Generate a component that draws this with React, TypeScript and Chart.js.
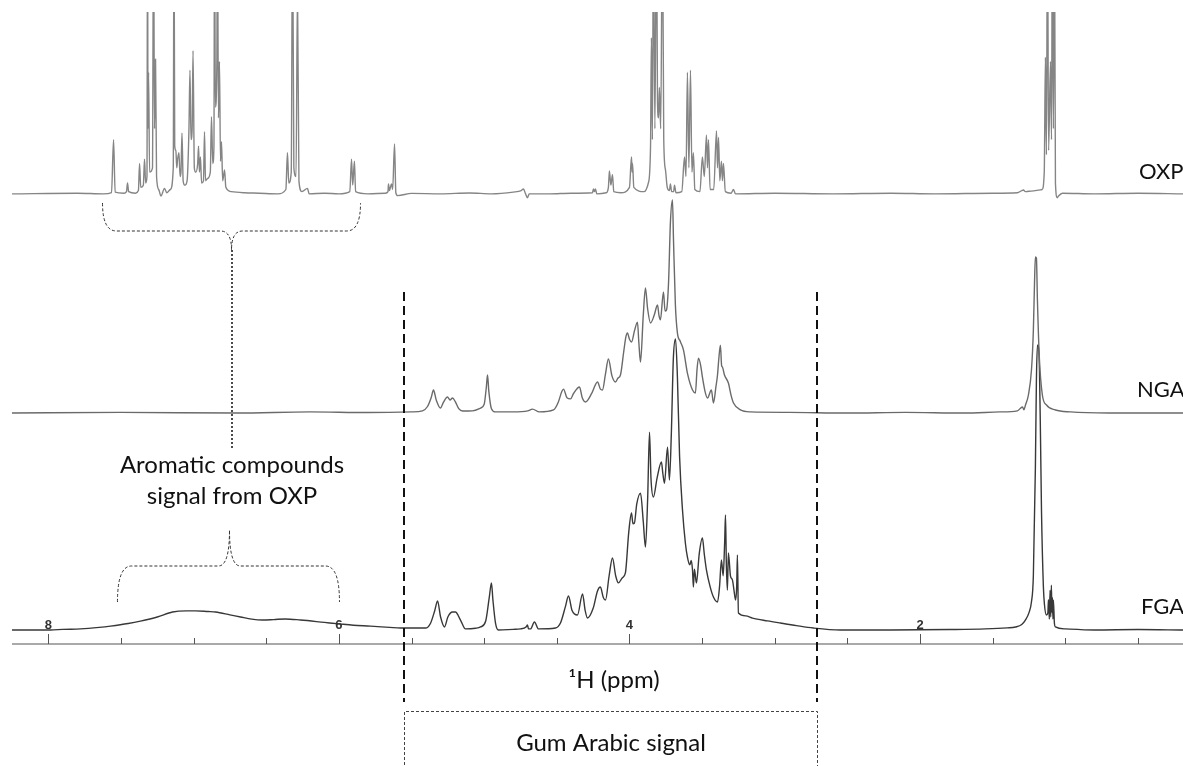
import React, { useEffect, useRef } from "react";
import { Chart, registerables } from "chart.js";

Chart.register(...registerables);

// ---------- data (ppm, intensity) ----------
const X_MIN = 0.19;
const X_MAX = 8.25;
const TICK_VALUES = [8, 7.5, 7, 6.5, 6, 5.5, 5, 4.5, 4, 3.5, 3, 2.5, 2, 1.5, 1, 0.5];
const TICK_LABELS = [8, 6, 4, 2];
const SERIES_NAMES = ["OXP", "NGA", "FGA"];
const SERIES_OFFSETS = [201, 100, 0];
const GUM_RANGE = [5.555, 2.706];
const AROMATIC_TOP_RANGE = [7.627, 6.739, 5.851];
const AROMATIC_BOTTOM_RANGE = [7.524, 6.753, 5.996];
const AXIS_TITLE = "¹H (ppm)";
const GUM_TEXT = "Gum Arabic signal";
const AROMATIC_TEXT = ["Aromatic compounds", "signal from OXP"];

const OXP: [number, number][] = [
  [8.25, 0], [7.8, 0.3], [7.62, 0],
  [7.565, 0.6], [7.551, 25], [7.54, 0.8],
  [7.48, 0.3], [7.462, 1], [7.455, 5], [7.447, 1],
  [7.4, 0.3], [7.38, 1.5], [7.372, 14], [7.364, 3],
  [7.346, 4], [7.338, 16], [7.33, 5],
  [7.321, 8], [7.317, 130], [7.314, 30], [7.31, 56], [7.303, 10],
  [7.283, 12], [7.276, 130], [7.269, 30], [7.262, 62], [7.255, 8],
  [7.24, 2], [7.225, -1], [7.2, 2.5], [7.185, 0.5], [7.16, 2],
  [7.14, 12], [7.135, 130], [7.13, 22], [7.122, 20], [7.116, 12], [7.11, 16], [7.101, 19], [7.093, 8],
  [7.087, 10], [7.08, 28], [7.072, 6], [7.06, 4], [7.045, 6],
  [7.032, 30], [7.025, 57], [7.018, 25], [7.01, 30], [7.004, 66], [6.995, 12], [6.985, 10],
  [6.972, 14], [6.966, 22], [6.96, 10], [6.953, 17], [6.945, 5],
  [6.932, 6], [6.925, 28.6], [6.918, 6], [6.905, 7],
  [6.885, 10], [6.877, 35.5], [6.868, 14],
  [6.86, 22], [6.856, 130], [6.85, 40], [6.84, 60], [6.836, 130], [6.829, 35], [6.822, 61], [6.815, 15],
  [6.808, 24], [6.8, 6], [6.787, 11], [6.778, 3],
  [6.74, 1], [6.65, 0.5], [6.55, 0.3], [6.42, 0],
  [6.365, 2], [6.354, 19], [6.345, 5], [6.328, 10], [6.319, 130], [6.31, 12], [6.295, 8], [6.285, 95],
  [6.275, 6], [6.255, 1], [6.216, 2.5], [6.205, 0],
  [6.1, 0.3], [6.0, 0],
  [5.925, 1], [5.913, 16], [5.905, 4], [5.893, 15], [5.885, 1],
  [5.8, 0], [5.68, 0.3],
  [5.662, 1], [5.659, 4.6], [5.652, 1.5], [5.638, 4.6], [5.63, 2], [5.617, 23], [5.608, 0.5], [5.595, -0.8],
  [5.5, 0.2], [5.3, 0], [5.1, 0.4], [4.95, 0], [4.8, 0.8], [4.745, 1.5], [4.73, 2.2], [4.715, 0], [4.702, -1.8], [4.69, 0],
  [4.55, 0], [4.4, 0.3], [4.255, 0.5], [4.248, 2.3], [4.241, 1], [4.234, 2.3], [4.225, 0],
  [4.16, 0.5], [4.145, 3], [4.138, 10.6], [4.128, 4], [4.117, 8.8], [4.108, 1],
  [4.06, 0.5], [4.0, 3], [3.986, 17], [3.982, 10], [3.979, 14], [3.97, 3],
  [3.9, 1], [3.87, 5], [3.855, 21.7], [3.849, 72], [3.842, 25], [3.835, 130], [3.825, 30], [3.814, 130],
  [3.807, 42], [3.8, 35], [3.794, 49], [3.785, 30], [3.773, 130], [3.764, 25], [3.752, 11], [3.74, 3],
  [3.725, 1.5], [3.718, 4.6], [3.71, 1], [3.696, 1], [3.69, 4], [3.68, 0.5],
  [3.64, 1], [3.621, 17], [3.611, 8], [3.601, 56], [3.591, 12], [3.58, 57], [3.57, 10], [3.56, 19], [3.55, 2],
  [3.515, 1], [3.498, 17], [3.485, 8], [3.47, 27], [3.463, 12], [3.456, 25], [3.445, 2],
  [3.42, 2], [3.401, 29], [3.394, 12], [3.387, 26], [3.378, 6], [3.367, 15], [3.36, 6], [3.353, 14], [3.34, 1],
  [3.3, 0.3], [3.284, 2], [3.27, 0],
  [3.0, 0.3], [2.6, 0], [2.2, 0.3], [1.9, 0], [1.5, 0.3], [1.33, 0.5], [1.3, 1.5], [1.288, 1.8], [1.275, 1],
  [1.25, 1.2], [1.16, 2],
  [1.145, 10], [1.137, 63], [1.13, 18], [1.123, 130], [1.115, 20], [1.102, 61], [1.095, 25], [1.089, 130],
  [1.082, 30], [1.075, 130], [1.068, 5], [1.055, -1.8], [1.047, -1], [1.02, 0.3], [0.8, 0], [0.5, 0.3], [0.19, 0],
];

const NGA: [number, number][] = [
  [8.25, 0], [7.5, 0.3], [6.7, 0], [6.2, 0.5], [5.8, 0.2], [5.5, 0.5], [5.425, 1],
  [5.39, 3], [5.365, 7], [5.349, 10.6], [5.33, 6], [5.301, 2.3],
  [5.28, 5], [5.253, 7.4], [5.235, 6], [5.218, 6.9], [5.198, 5.1], [5.175, 2], [5.149, 0.9],
  [5.08, 1], [5.025, 2.3], [5.0, 4], [4.985, 12], [4.977, 17.5], [4.968, 10], [4.95, 2], [4.922, 0.5],
  [4.8, 0.5], [4.7, 1], [4.668, 1.8], [4.62, 0.5], [4.523, 1.4],
  [4.49, 5], [4.465, 10], [4.454, 11], [4.43, 7], [4.406, 6.5], [4.385, 9], [4.344, 12], [4.325, 7], [4.303, 5.1],
  [4.26, 9], [4.22, 14.3], [4.2, 11], [4.186, 10.6], [4.165, 18], [4.145, 24.9], [4.12, 17], [4.096, 14.3],
  [4.08, 16], [4.062, 17.5],
  [4.04, 28], [4.025, 35], [4.014, 36.9], [4.0, 34], [3.986, 32.7], [3.965, 38], [3.945, 41.9], [3.935, 32],
  [3.924, 23.5],
  [3.905, 45], [3.89, 57.6], [3.875, 48], [3.855, 41.5], [3.83, 45], [3.807, 49.8], [3.797, 45], [3.787, 42.9],
  [3.766, 55.8], [3.755, 47], [3.745, 47.5],
  [3.731, 60], [3.718, 88], [3.704, 98.2], [3.697, 80], [3.684, 50], [3.67, 36.9], [3.65, 33], [3.628, 29],
  [3.6, 18], [3.566, 10.6], [3.546, 9.2],
  [3.535, 20], [3.525, 25.3], [3.51, 22], [3.498, 16.6], [3.48, 10], [3.463, 6.9], [3.436, 10.6], [3.422, 4.6],
  [3.405, 12], [3.394, 17.5], [3.385, 25], [3.374, 31.3], [3.366, 22], [3.36, 21.2], [3.346, 17.5],
  [3.319, 13.8], [3.3, 8], [3.284, 4.6], [3.236, 1.4], [3.167, 0.5],
  [2.9, 0.3], [2.5, 0], [2.1, 0.3], [1.7, 0], [1.45, 0.5], [1.33, 1], [1.295, 2.8], [1.285, 1.5], [1.275, 3.5],
  [1.254, 8.3], [1.233, 19.8], [1.22, 38], [1.212, 60], [1.206, 71.9], [1.199, 71.4], [1.192, 52],
  [1.178, 24.4], [1.158, 8.3], [1.13, 3.7], [1.068, 1.4], [0.965, 0.5], [0.7, 0], [0.19, 0],
];

const FGA: [number, number][] = [
  [8.25, 0], [7.985, 0], [7.9, 0.3], [7.778, 0.5], [7.65, 1.2], [7.572, 1.8], [7.45, 3], [7.366, 4.1],
  [7.25, 6], [7.145, 8.3], [7.05, 8.8], [6.987, 8.8], [6.9, 8.5], [6.849, 8.3], [6.75, 7], [6.677, 6],
  [6.6, 5], [6.526, 4.6], [6.45, 4.8], [6.368, 5.1], [6.264, 4.6], [6.1, 3.5], [5.996, 2.8], [5.9, 2.2],
  [5.783, 1.8], [5.65, 1.2], [5.576, 0.9], [5.45, 0.9], [5.404, 0.9],
  [5.37, 3], [5.34, 9], [5.321, 13.4], [5.3, 6], [5.273, 1.4], [5.25, 6], [5.218, 8.3], [5.198, 8.3],
  [5.163, 4.6], [5.129, 0.5],
  [5.06, 0.8], [5.025, 1.4], [4.99, 4], [4.965, 15], [4.95, 21.7], [4.94, 14], [4.922, 3.2], [4.902, 0],
  [4.8, 0.3], [4.75, 0.5], [4.71, 1.5], [4.702, 2.3], [4.695, 0.5], [4.681, 0.5], [4.654, 3.7], [4.626, 0.5],
  [4.509, 0.9], [4.475, 3.2], [4.44, 11], [4.42, 15.7], [4.395, 9], [4.358, 6.9], [4.323, 16.6], [4.305, 9],
  [4.289, 5.5],
  [4.25, 10], [4.22, 18], [4.2, 19.8], [4.18, 15], [4.165, 13.8], [4.14, 25], [4.117, 33.2], [4.095, 25],
  [4.076, 21.7], [4.05, 24], [4.028, 26.3],
  [4.005, 45], [3.986, 53.9], [3.976, 49], [3.966, 49.3], [3.95, 58], [3.924, 63.1], [3.905, 50], [3.89, 38.2],
  [3.875, 60], [3.862, 91.2], [3.852, 70], [3.835, 61.3], [3.81, 70], [3.78, 77.4], [3.77, 72], [3.759, 67.7],
  [3.738, 84.3], [3.725, 69.1], [3.712, 90], [3.698, 125], [3.683, 134.1], [3.67, 116.6], [3.655, 80],
  [3.635, 55.3], [3.615, 40], [3.601, 33.6], [3.585, 30], [3.575, 32], [3.566, 27.6], [3.56, 19.8],
  [3.553, 28], [3.539, 21.7], [3.52, 35], [3.498, 42.4], [3.485, 35], [3.47, 27.6], [3.445, 20], [3.422, 15.2],
  [3.394, 12.9], [3.38, 20], [3.367, 32.3], [3.355, 25], [3.345, 40], [3.339, 53], [3.333, 30], [3.326, 18.4],
  [3.319, 35.5], [3.305, 25], [3.291, 23], [3.28, 18], [3.27, 13.8], [3.262, 20], [3.257, 34.6], [3.25, 7.8],
  [3.2, 6.5], [3.153, 5.5], [3.05, 4.2], [2.961, 3.2], [2.85, 2], [2.734, 0.9], [2.548, 0],
  [2.2, 0], [1.8, 0.2], [1.55, 0.5], [1.4, 1], [1.343, 1.4], [1.3, 2.5], [1.275, 4.6], [1.25, 8], [1.233, 13],
  [1.22, 25], [1.206, 75], [1.199, 115], [1.192, 131.3], [1.185, 131.3], [1.178, 120], [1.171, 90],
  [1.164, 55], [1.151, 20], [1.144, 12], [1.13, 6.9], [1.12, 8], [1.116, 14], [1.11, 5], [1.105, 18.4],
  [1.1, 6], [1.096, 20.7], [1.092, 8], [1.089, 15], [1.085, 5], [1.082, 13.8], [1.075, 3], [1.068, 1.4],
  [1.0, 0.5], [0.8, 0], [0.5, 0.2], [0.19, 0],
];

const SERIES_DATA = [OXP, NGA, FGA];
const SERIES_COLORS = ["#858585", "#6a6a6a", "#383838"];
const SERIES_WIDTHS = [1.4, 1.4, 1.4];

const TEXT_FONT = '24px Lato, "Open Sans", sans-serif';
const LABEL_FONT = '22px Lato, "Open Sans", sans-serif';

function drawBrace(
  ctx: CanvasRenderingContext2D,
  x1: number, xm: number, x2: number,
  yEnd: number, yBar: number, yTip: number
) {
  const r = 14;
  const rc = 11;
  ctx.beginPath();
  ctx.moveTo(x1, yEnd);
  ctx.quadraticCurveTo(x1, yBar, x1 + r, yBar);
  ctx.lineTo(xm - rc, yBar);
  ctx.quadraticCurveTo(xm, yBar, xm, yTip);
  ctx.quadraticCurveTo(xm, yBar, xm + rc, yBar);
  ctx.lineTo(x2 - r, yBar);
  ctx.quadraticCurveTo(x2, yBar, x2, yEnd);
  ctx.stroke();
}

const annotations = {
  id: "nmrAnnotations",
  afterDraw(chart: any) {
    const ctx: CanvasRenderingContext2D = chart.ctx;
    const xs = chart.scales.x;
    const area = chart.chartArea;
    const px = (v: number) => xs.getPixelForValue(v);
    ctx.save();

    // axis line
    ctx.strokeStyle = "#8c8c8c";
    ctx.lineWidth = 1.5;
    ctx.beginPath();
    ctx.moveTo(area.left, area.bottom);
    ctx.lineTo(area.right, area.bottom);
    ctx.stroke();

    // ticks (pointing up, inside)
    ctx.strokeStyle = "#555";
    ctx.lineWidth = 1;
    TICK_VALUES.forEach((v) => {
      const x = Math.round(px(v)) + 0.5;
      const len = TICK_LABELS.includes(v) ? 10 : 6;
      ctx.beginPath();
      ctx.moveTo(x, area.bottom);
      ctx.lineTo(x, area.bottom - len);
      ctx.stroke();
    });
    ctx.fillStyle = "#333";
    ctx.font = 'bold 13px "Liberation Sans", Arial, sans-serif';
    ctx.textAlign = "center";
    ctx.textBaseline = "middle";
    TICK_LABELS.forEach((v) => ctx.fillText(String(v), px(v), area.bottom - 19));

    // Gum Arabic range: bold dashed lines
    ctx.strokeStyle = "#111";
    ctx.lineWidth = 2;
    ctx.setLineDash([9, 5]);
    GUM_RANGE.forEach((v) => {
      const x = Math.round(px(v));
      ctx.beginPath();
      ctx.moveTo(x, 292);
      ctx.lineTo(x, 702);
      ctx.stroke();
    });

    // Gum Arabic box
    const g1 = Math.round(px(GUM_RANGE[0])) + 0.5;
    const g2 = Math.round(px(GUM_RANGE[1])) + 0.5;
    ctx.strokeStyle = "#444";
    ctx.lineWidth = 1;
    ctx.setLineDash([3, 2]);
    ctx.beginPath();
    ctx.moveTo(g1, 780);
    ctx.lineTo(g1, 711.5);
    ctx.lineTo(g2, 711.5);
    ctx.lineTo(g2, 780);
    ctx.stroke();

    // braces
    ctx.strokeStyle = "#333";
    ctx.lineWidth = 1;
    ctx.setLineDash([3, 2]);
    drawBrace(ctx, px(AROMATIC_TOP_RANGE[0]), px(AROMATIC_TOP_RANGE[1]), px(AROMATIC_TOP_RANGE[2]), 203, 231, 250);
    drawBrace(ctx, px(AROMATIC_BOTTOM_RANGE[0]), px(AROMATIC_BOTTOM_RANGE[1]), px(AROMATIC_BOTTOM_RANGE[2]), 602, 566, 530);

    // dotted connector
    ctx.strokeStyle = "#111";
    ctx.lineWidth = 1.5;
    ctx.setLineDash([2, 2]);
    const xc = Math.round(px(AROMATIC_TOP_RANGE[1]));
    ctx.beginPath();
    ctx.moveTo(xc, 250);
    ctx.lineTo(xc, 448);
    ctx.stroke();
    ctx.setLineDash([]);

    // texts
    ctx.fillStyle = "#111";
    ctx.font = TEXT_FONT;
    ctx.textAlign = "center";
    ctx.textBaseline = "alphabetic";
    ctx.fillText(AROMATIC_TEXT[0], xc, 473);
    ctx.fillText(AROMATIC_TEXT[1], xc, 504);
    ctx.fillText(AXIS_TITLE, 614, 688);
    ctx.fillText(GUM_TEXT, 611, 751);

    ctx.font = LABEL_FONT;
    ctx.textAlign = "left";
    ctx.textBaseline = "middle";
    const labelY = [172, 390, 607];
    const labelX = [1139, 1137, 1141];
    SERIES_NAMES.forEach((n, i) => ctx.fillText(n, labelX[i], labelY[i]));

    ctx.restore();
  },
};

export default function App() {
  const ref = useRef<HTMLCanvasElement | null>(null);
  useEffect(() => {
    if (!ref.current) return;
    const chart = new Chart(ref.current, {
      type: "line",
      data: {
        datasets: SERIES_DATA.map((d, i) => ({
          label: SERIES_NAMES[i],
          data: d.map(([x, y]) => ({ x, y: y + SERIES_OFFSETS[i] })),
          borderColor: SERIES_COLORS[i],
          borderWidth: SERIES_WIDTHS[i],
          pointRadius: 0,
          cubicInterpolationMode: "monotone" as const,
          fill: false,
        })),
      },
      options: {
        responsive: false,
        devicePixelRatio: 1,
        animation: false,
        layout: { padding: { left: 12, right: 0, top: 12, bottom: 122 } },
        plugins: { legend: { display: false }, tooltip: { enabled: false } },
        scales: {
          x: { type: "linear", min: X_MIN, max: X_MAX, reverse: true, display: false },
          y: { type: "linear", min: -6.45, max: 284.8, display: false },
        },
      },
      plugins: [annotations],
    });
    return () => chart.destroy();
  }, []);
  return (
    <div style={{ position: "absolute", left: 0, top: 0, width: 1183, height: 766, background: "#fff" }}>
      <canvas ref={ref} width={1183} height={766} />
    </div>
  );
}
